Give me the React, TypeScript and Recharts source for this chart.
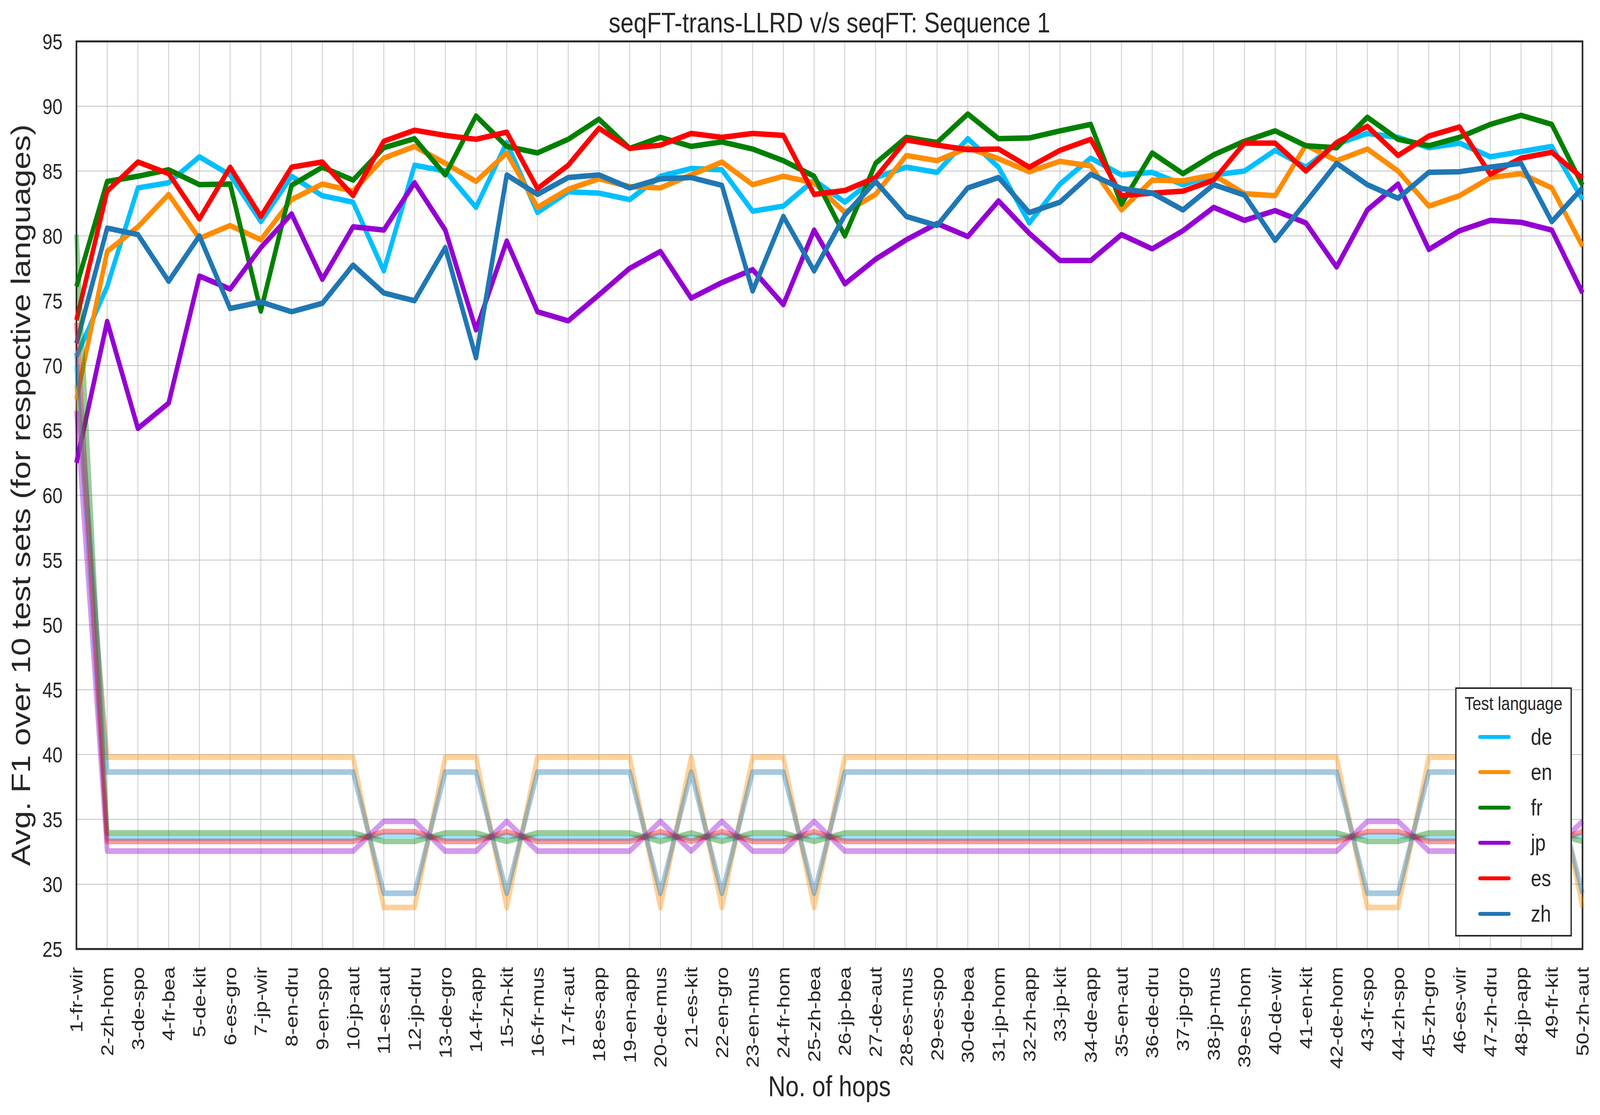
import React from "react";
import {
  LineChart,
  Line,
  XAxis,
  YAxis,
  CartesianGrid,
  ReferenceArea,
  Legend,
} from "recharts";

const FONT = "'Liberation Sans', Arial, Helvetica, sans-serif";
const INK = "#262626";
const W = 4940;
const H = 2855;

const hops = [
  "1-fr-wir", "2-zh-hom", "3-de-spo", "4-fr-bea", "5-de-kit", "6-es-gro", "7-jp-wir", "8-en-dru", "9-en-spo", "10-jp-aut",
  "11-es-aut", "12-jp-dru", "13-de-gro", "14-fr-app", "15-zh-kit", "16-fr-mus", "17-fr-aut", "18-es-app", "19-en-app", "20-de-mus",
  "21-es-kit", "22-en-gro", "23-en-mus", "24-fr-hom", "25-zh-bea", "26-jp-bea", "27-de-aut", "28-es-mus", "29-es-spo", "30-de-bea",
  "31-jp-hom", "32-zh-app", "33-jp-kit", "34-de-app", "35-en-aut", "36-de-dru", "37-jp-gro", "38-jp-mus", "39-es-hom", "40-de-wir",
  "41-en-kit", "42-de-hom", "43-fr-spo", "44-zh-spo", "45-zh-gro", "46-es-wir", "47-zh-dru", "48-jp-app", "49-fr-kit", "50-zh-aut",
];

const languages = ["de", "en", "fr", "jp", "es", "zh"];

const colors: Record<string, string> = {
  de: "#00bfff",
  en: "#ff8c00",
  fr: "#008000",
  jp: "#9400d3",
  es: "#ff0000",
  zh: "#1f77b4",
};

// seqFT-trans-LLRD
const deLLRD = [
  70.7, 76.1, 83.7, 84.1, 86.1, 84.7, 81.1, 84.6, 83.1, 82.6,
  77.3, 85.45, 85.0, 82.2, 87.2, 81.8, 83.4, 83.3, 82.8, 84.6,
  85.2, 85.1, 81.9, 82.3, 84.3, 82.6, 84.5, 85.3, 84.9, 87.5,
  85.3, 81.0, 84.0, 86.0, 84.7, 84.9, 83.95, 84.7, 85.0, 86.6,
  85.3, 87.1, 87.9, 87.6, 86.8, 87.15, 86.1, 86.5, 86.9, 82.8,
];
const enLLRD = [
  67.4, 78.8, 80.7, 83.2, 79.8, 80.8, 79.7, 82.8, 84.0, 83.45,
  86.0, 86.9, 85.6, 84.2, 86.4, 82.2, 83.6, 84.4, 83.8, 83.7,
  84.7, 85.7, 83.95, 84.6, 84.1, 81.8, 83.2, 86.2, 85.8, 86.8,
  85.95, 84.95, 85.75, 85.4, 82.0, 84.3, 84.25, 84.7, 83.25, 83.1,
  87.0, 85.8, 86.7, 85.0, 82.3, 83.1, 84.5, 84.8, 83.7, 79.2,
];
const frLLRD = [
  76.1, 84.2, 84.6, 85.1, 83.95, 84.0, 74.2, 83.9, 85.3, 84.3,
  86.8, 87.5, 84.7, 89.25, 86.9, 86.4, 87.45, 89.0, 86.75, 87.6,
  86.9, 87.25, 86.7, 85.8, 84.6, 80.0, 85.6, 87.6, 87.2, 89.4,
  87.5, 87.55, 88.1, 88.6, 82.45, 86.4, 84.8, 86.25, 87.3, 88.1,
  86.95, 86.8, 89.15, 87.45, 86.95, 87.6, 88.6, 89.3, 88.6, 83.9,
];
const jpLLRD = [
  62.5, 73.4, 65.15, 67.1, 76.9, 75.9, 79.1, 81.7, 76.65, 80.7,
  80.45, 84.1, 80.45, 72.75, 79.6, 74.15, 73.45, 75.45, 77.5, 78.8,
  75.2, 76.4, 77.4, 74.7, 80.45, 76.3, 78.2, 79.7, 80.95, 79.95,
  82.7, 80.2, 78.1, 78.1, 80.1, 79.0, 80.4, 82.2, 81.2, 81.95,
  81.0, 77.6, 82.0, 84.0, 78.95, 80.4, 81.2, 81.05, 80.45, 75.6,
];
const esLLRD = [
  73.5, 83.45, 85.7, 84.8, 81.3, 85.3, 81.5, 85.3, 85.7, 83.1,
  87.3, 88.15, 87.75, 87.45, 88.0, 83.65, 85.45, 88.3, 86.75, 87.0,
  87.9, 87.6, 87.9, 87.75, 83.2, 83.5, 84.5, 87.4, 87.0, 86.65,
  86.7, 85.3, 86.6, 87.45, 83.1, 83.3, 83.45, 84.3, 87.15, 87.15,
  85.0, 87.2, 88.45, 86.2, 87.7, 88.4, 84.75, 86.0, 86.45, 84.45,
];
const zhLLRD = [
  71.7, 80.6, 80.1, 76.5, 80.0, 74.4, 74.9, 74.15, 74.8, 77.75,
  75.6, 75.0, 79.1, 70.6, 84.7, 83.2, 84.5, 84.7, 83.7, 84.4,
  84.5, 83.9, 75.75, 81.5, 77.3, 81.6, 84.2, 81.5, 80.8, 83.7,
  84.5, 81.8, 82.6, 84.75, 83.65, 83.3, 82.0, 83.95, 83.15, 79.65,
  82.6, 85.6, 83.95, 82.9, 84.9, 84.95, 85.3, 85.6, 81.1, 83.7,
];

// seqFT (faded)
const deSeqFT = [
  70.0, 33.55, 33.55, 33.55, 33.55, 33.55, 33.55, 33.55, 33.55, 33.55,
  33.75, 33.75, 33.55, 33.55, 33.75, 33.55, 33.55, 33.55, 33.55, 33.75,
  33.55, 33.75, 33.55, 33.55, 33.75, 33.55, 33.55, 33.55, 33.55, 33.55,
  33.55, 33.55, 33.55, 33.55, 33.55, 33.55, 33.55, 33.55, 33.55, 33.55,
  33.55, 33.55, 33.75, 33.75, 33.55, 33.55, 33.55, 33.55, 33.55, 33.75,
];
const enSeqFT = [
  68.5, 39.8, 39.8, 39.8, 39.8, 39.8, 39.8, 39.8, 39.8, 39.8,
  28.2, 28.2, 39.8, 39.8, 28.2, 39.8, 39.8, 39.8, 39.8, 28.2,
  39.8, 28.2, 39.8, 39.8, 28.2, 39.8, 39.8, 39.8, 39.8, 39.8,
  39.8, 39.8, 39.8, 39.8, 39.8, 39.8, 39.8, 39.8, 39.8, 39.8,
  39.8, 39.8, 28.2, 28.2, 39.8, 39.8, 39.8, 39.8, 39.8, 28.2,
];
const frSeqFT = [
  80.1, 33.95, 33.95, 33.95, 33.95, 33.95, 33.95, 33.95, 33.95, 33.95,
  33.3, 33.3, 33.95, 33.95, 33.3, 33.95, 33.95, 33.95, 33.95, 33.3,
  33.95, 33.3, 33.95, 33.95, 33.3, 33.95, 33.95, 33.95, 33.95, 33.95,
  33.95, 33.95, 33.95, 33.95, 33.95, 33.95, 33.95, 33.95, 33.95, 33.95,
  33.95, 33.95, 33.3, 33.3, 33.95, 33.95, 33.95, 33.95, 33.95, 33.3,
];
const jpSeqFT = [
  66.5, 32.55, 32.55, 32.55, 32.55, 32.55, 32.55, 32.55, 32.55, 32.55,
  34.85, 34.85, 32.55, 32.55, 34.85, 32.55, 32.55, 32.55, 32.55, 34.85,
  32.55, 34.85, 32.55, 32.55, 34.85, 32.55, 32.55, 32.55, 32.55, 32.55,
  32.55, 32.55, 32.55, 32.55, 32.55, 32.55, 32.55, 32.55, 32.55, 32.55,
  32.55, 32.55, 34.85, 34.85, 32.55, 32.55, 32.55, 32.55, 32.55, 34.85,
];
const esSeqFT = [
  73.3, 33.3, 33.3, 33.3, 33.3, 33.3, 33.3, 33.3, 33.3, 33.3,
  34.05, 34.05, 33.3, 33.3, 34.05, 33.3, 33.3, 33.3, 33.3, 34.05,
  33.3, 34.05, 33.3, 33.3, 34.05, 33.3, 33.3, 33.3, 33.3, 33.3,
  33.3, 33.3, 33.3, 33.3, 33.3, 33.3, 33.3, 33.3, 33.3, 33.3,
  33.3, 33.3, 34.05, 34.05, 33.3, 33.3, 33.3, 33.3, 33.3, 34.05,
];
const zhSeqFT = [
  71.0, 38.65, 38.65, 38.65, 38.65, 38.65, 38.65, 38.65, 38.65, 38.65,
  29.3, 29.3, 38.65, 38.65, 29.3, 38.65, 38.65, 38.65, 38.65, 29.3,
  38.65, 29.3, 38.65, 38.65, 29.3, 38.65, 38.65, 38.65, 38.65, 38.65,
  38.65, 38.65, 38.65, 38.65, 38.65, 38.65, 38.65, 38.65, 38.65, 38.65,
  38.65, 38.65, 29.3, 29.3, 38.65, 38.65, 38.65, 38.65, 38.65, 29.3,
];

const yTicks = [25, 30, 35, 40, 45, 50, 55, 60, 65, 70, 75, 80, 85, 90, 95];

const llrd: Record<string, number[]> = {
  de: deLLRD, en: enLLRD, fr: frLLRD, jp: jpLLRD, es: esLLRD, zh: zhLLRD,
};
const seqft: Record<string, number[]> = {
  de: deSeqFT, en: enSeqFT, fr: frSeqFT, jp: jpSeqFT, es: esSeqFT, zh: zhSeqFT,
};

const data = hops.map((hop, i) => {
  const row: Record<string, string | number> = { hop };
  languages.forEach((lang) => {
    row[lang] = llrd[lang][i];
    row[`${lang}_seqft`] = seqft[lang][i];
  });
  return row;
});

const HopTick = ({ x, y, payload }: any) => (
  <text
    x={x}
    y={y}
    transform={`rotate(-90 ${x} ${y})`}
    textAnchor="end"
    dy="0.35em"
    fontSize={54}
    fontFamily={FONT}
    fill={INK}
  >
    {payload.value}
  </text>
);

const renderLegend = (props: any) => {
  const payload = props.payload || [];
  // keep the plotting order (Legend sorts its payload by name)
  const items = languages.map(
    (lang) => payload.find((p: any) => p.value === lang) || { value: lang, color: colors[lang] }
  );
  return (
    <div
      style={{
        position: "relative",
        width: 360,
        height: 638,
        boxSizing: "border-box",
        border: `4.5px solid ${INK}`,
        background: "#ffffff",
        fontFamily: FONT,
        color: INK,
      }}
    >
      <div
        style={{
          position: "absolute",
          left: 0,
          right: 0,
          top: 13,
          textAlign: "center",
          fontSize: 48.5,
          lineHeight: "48.5px",
          whiteSpace: "nowrap",
        }}
      >
        Test language
      </div>
      {items.map((entry: any, i: number) => (
        <div
          key={entry.value}
          style={{
            position: "absolute",
            left: 0,
            top: 122.5 + i * 90.6 - 35,
            height: 70,
            display: "flex",
            alignItems: "center",
          }}
        >
          <span
            style={{
              display: "inline-block",
              marginLeft: 66.5,
              width: 100,
              height: 10,
              borderRadius: 5,
              background: entry.color,
            }}
          />
          <span style={{ marginLeft: 63, fontSize: 59, lineHeight: "70px" }}>
            {entry.value}
          </span>
        </div>
      ))}
    </div>
  );
};

export default function App() {
  // the browser window may be narrower than the figure; squeeze it horizontally to fit
  const viewW = typeof window !== "undefined" ? window.innerWidth : W;
  const sx = Math.min(1, viewW / W);

  return (
    <div
      style={{
        position: "absolute",
        left: 0,
        top: 0,
        width: W * sx,
        height: H,
        overflow: "hidden",
        background: "#ffffff",
      }}
    >
      <div
        style={{
          position: "absolute",
          left: 0,
          top: 0,
          width: W,
          height: H,
          transform: `scale(${sx}, 1)`,
          transformOrigin: "0 0",
        }}
      >
        <LineChart
          width={W}
          height={H}
          data={data}
          margin={{ top: 106, right: 54, bottom: 0, left: 0 }}
        >
          <CartesianGrid stroke="#c0c0c0" strokeWidth={2} />
          <XAxis
            dataKey="hop"
            scale="point"
            interval={0}
            height={425}
            padding={{ left: 0, right: 0 }}
            tickSize={0}
            tickMargin={46}
            axisLine={false}
            tick={<HopTick />}
          />
          <YAxis
            type="number"
            domain={[25, 95]}
            ticks={yTicks}
            allowDataOverflow
            width={236}
            tickSize={0}
            tickMargin={43}
            axisLine={false}
            tick={{ fontSize: 56, fill: INK, fontFamily: FONT }}
          />
          {languages.map((lang) => (
            <Line
              key={lang}
              type="linear"
              dataKey={lang}
              name={lang}
              stroke={colors[lang]}
              strokeWidth={14}
              strokeLinejoin="round"
              dot={false}
              activeDot={false}
              isAnimationActive={false}
            />
          ))}
          {languages.map((lang) => (
            <Line
              key={`${lang}_seqft`}
              type="linear"
              dataKey={`${lang}_seqft`}
              name={`${lang} (seqFT)`}
              stroke={colors[lang]}
              strokeOpacity={0.4}
              strokeWidth={14.5}
              strokeLinejoin="round"
              dot={false}
              activeDot={false}
              legendType="none"
              isAnimationActive={false}
            />
          ))}
          <ReferenceArea
            x1={hops[0]}
            x2={hops[hops.length - 1]}
            y1={25}
            y2={95}
            fill="none"
            stroke={INK}
            strokeWidth={5}
            ifOverflow="visible"
          />
          <Legend
            layout="vertical"
            align="center"
            verticalAlign="middle"
            content={renderLegend}
            wrapperStyle={{ left: 4493, top: 1760, width: 360, height: 638 }}
          />
        </LineChart>
        <svg
          width={W}
          height={H}
          style={{ position: "absolute", left: 0, top: 0, pointerEvents: "none" }}
        >
          <text
            x={2561}
            y={83}
            textAnchor="middle"
            fontSize={73}
            fontFamily={FONT}
            fill={INK}
          >
            seqFT-trans-LLRD v/s seqFT: Sequence 1
          </text>
          <text
            x={2561}
            y={2807}
            textAnchor="middle"
            fontSize={74}
            fontFamily={FONT}
            fill={INK}
          >
            No. of hops
          </text>
          <text
            transform="translate(93,1268) rotate(-90)"
            textAnchor="middle"
            fontSize={83}
            fontFamily={FONT}
            fill={INK}
          >
            Avg. F1 over 10 test sets (for respective languages)
          </text>
        </svg>
      </div>
    </div>
  );
}
